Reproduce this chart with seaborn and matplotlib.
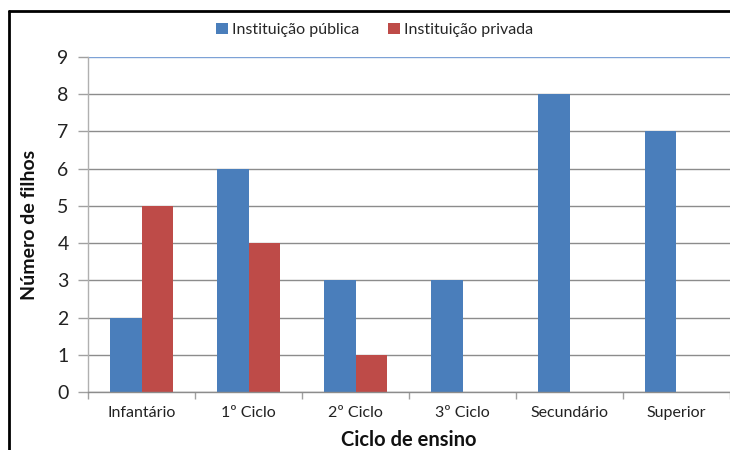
import matplotlib
matplotlib.use("Agg")
import matplotlib.pyplot as plt
import seaborn as sns
import pandas as pd
from matplotlib.lines import Line2D
from matplotlib.ticker import FixedLocator

categories = ["Infantário", "1º Ciclo", "2º Ciclo", "3º Ciclo", "Secundário", "Superior"]
publica = [2, 6, 3, 3, 8, 7]
privada = [5, 4, 1, 0, 0, 0]
series_names = ["Instituição pública", "Instituição privada"]
yticks = list(range(0, 10))

df = pd.DataFrame({
    "Ciclo": categories * 2,
    "Valor": publica + privada,
    "Serie": [series_names[0]] * len(categories) + [series_names[1]] * len(categories),
})

sns.set_theme(style="white")
plt.rcParams['font.family'] = ['Lato', 'DejaVu Sans']

fig = plt.figure(figsize=(7.3, 4.5), dpi=100)
ax = fig.add_axes([88 / 730, 1 - 392 / 450, 1 - 88 / 730, (392 - 57) / 450])

palette = {series_names[0]: "#4A7EBB", series_names[1]: "#BE4B48"}
sns.barplot(data=df, x="Ciclo", y="Valor", hue="Serie", palette=palette,
            width=0.58, ax=ax, saturation=1, edgecolor="none", linewidth=0)

ax.set_ylim(0, 9)
ax.set_xlim(-0.5, len(categories) - 0.5)
ax.set_yticks(yticks)
ax.set_yticklabels([str(v) for v in yticks], fontsize=14, color="#222222")
ax.tick_params(axis="y", length=7, width=1, color="#a0a0a0", pad=7, direction="out", left=True)
ax.tick_params(axis="x", which="major", length=0, pad=10, labelsize=11.5, labelcolor="#222222")
ax.xaxis.set_minor_locator(FixedLocator([i + 0.5 for i in range(-1, len(categories))]))
ax.tick_params(axis="x", which="minor", length=5, width=1, color="#a0a0a0", bottom=True, direction="out")

ax.yaxis.grid(True, color="#8c8c8c", linewidth=1)
ax.set_axisbelow(True)
gl = ax.get_ygridlines()
gl[-1].set_color("#7da2d6")

for s in ["top", "right"]:
    ax.spines[s].set_visible(False)
ax.spines["left"].set_color("#b0b0b0")
ax.spines["bottom"].set_color("#8c8c8c")
ax.spines["left"].set_linewidth(1)
ax.spines["bottom"].set_linewidth(1)

ax.set_xlabel("Ciclo de ensino", fontsize=14.5, fontweight="bold", labelpad=7, color="#111111")
ax.set_ylabel("Número de filhos", fontsize=14, fontweight="bold", labelpad=14, color="#111111")

leg = ax.legend()
handles = leg.legend_handles
leg.remove()
fig.legend(handles=handles, labels=series_names, loc="center",
           bbox_to_anchor=(375 / 730, 1 - 30 / 450), ncol=2, frameon=False, fontsize=11.5,
           handlelength=0.7, handleheight=0.7, handletextpad=0.3, columnspacing=1.8)

fig.add_artist(Line2D([9 / 730, 9 / 730], [0, 1 - 11 / 450], transform=fig.transFigure, color="black", linewidth=2))
fig.add_artist(Line2D([9 / 730, 1], [1 - 11 / 450, 1 - 11 / 450], transform=fig.transFigure, color="black", linewidth=2))

fig.savefig("out.png", dpi=100)
